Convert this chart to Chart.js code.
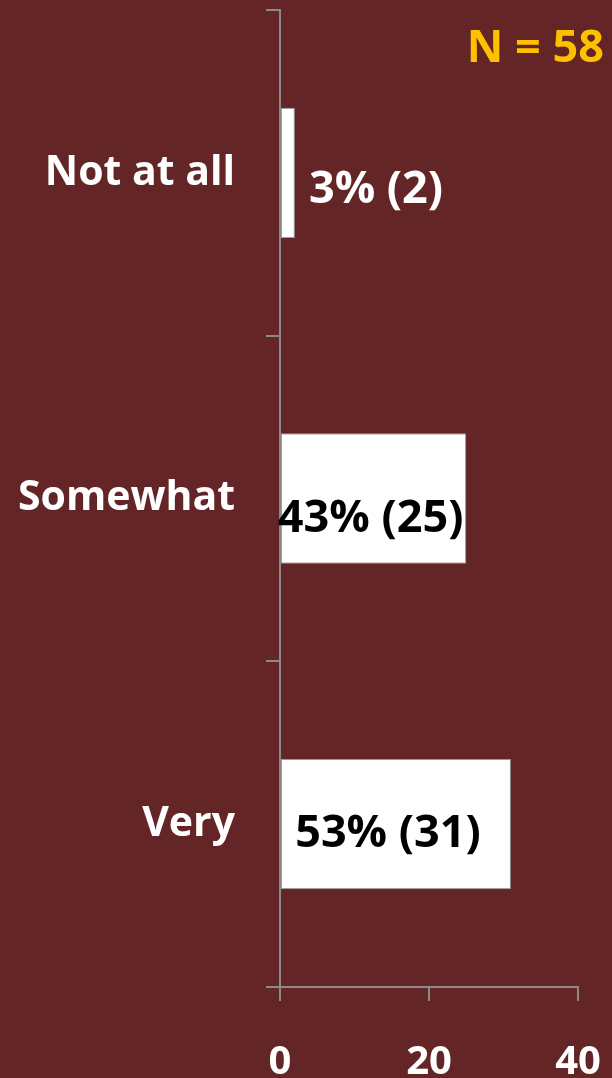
<!DOCTYPE html>
<html lang="en">
<head>
    <meta charset="UTF-8">
    <title>Response breakdown</title>
    <script src="https://cdn.jsdelivr.net/npm/chart.js"></script>
    <style>
        html, body { margin: 0; padding: 0; background: #632526; }
        #chart { display: block; }
    </style>
</head>
<body>
    <canvas id="chart" width="612" height="1078"></canvas>

    <script>
        // answers, top to bottom
        var categories = ['Not at all', 'Somewhat', 'Very'];
        var counts = [2, 25, 31];
        var percents = [3, 43, 53];
        var totalN = 58;
        var xTicks = [0, 20, 40];

        var axisGray = '#8a8a8a';
        var fontFamily = '"Open Sans", "DejaVu Sans", sans-serif';

        // value labels: white beside a thin bar, black inside a wide one
        var barLabels = {
            id: 'barLabels',
            afterDatasetsDraw: function(chart, args, opts) {
                var ctx = chart.ctx;
                var meta = chart.getDatasetMeta(0);
                ctx.save();
                ctx.font = 'bold 45px ' + fontFamily;
                ctx.textBaseline = 'middle';
                meta.data.forEach(function(bar, i) {
                    var p = bar.getProps(['x', 'y', 'base'], true);
                    var text = percents[i] + '% (' + counts[i] + ')';
                    var w = ctx.measureText(text).width;
                    var nudge = opts.nudge[i] || [0, 0];
                    if (p.x - p.base > w * 0.8) {
                        ctx.fillStyle = '#000000';
                        ctx.textAlign = 'center';
                        ctx.fillText(text, (p.x + p.base) / 2 + nudge[0], p.y + nudge[1]);
                    } else {
                        ctx.fillStyle = '#ffffff';
                        ctx.textAlign = 'left';
                        ctx.fillText(text, p.x + nudge[0], p.y + nudge[1]);
                    }
                });
                ctx.restore();
            }
        };

        // sample size in the top right corner
        var sampleSize = {
            id: 'sampleSize',
            afterDraw: function(chart) {
                var ctx = chart.ctx;
                ctx.save();
                ctx.font = 'bold 45px ' + fontFamily;
                ctx.fillStyle = '#ffc000';
                ctx.textAlign = 'right';
                ctx.textBaseline = 'alphabetic';
                ctx.fillText('N = ' + totalN, chart.width - 8, 62);
                ctx.restore();
            }
        };

        var ctx = document.getElementById('chart').getContext('2d');
        var chart = new Chart(ctx, {
            type: 'bar',
            data: {
                labels: categories,
                datasets: [{
                    data: counts,
                    backgroundColor: '#ffffff',
                    borderColor: '#9a9a9a',
                    borderWidth: 1,
                    borderSkipped: false,
                    categoryPercentage: 1.0,
                    barPercentage: 0.4
                }]
            },
            options: {
                indexAxis: 'y',
                responsive: false,
                animation: false,
                layout: { padding: { top: 10, right: 34, left: 0, bottom: 0 } },
                plugins: {
                    legend: { display: false },
                    tooltip: { enabled: false },
                    barLabels: { nudge: [[14, 17], [-3, 21], [-8, 10]] }
                },
                scales: {
                    x: {
                        min: 0,
                        max: 40,
                        afterBuildTicks: function(axis) {
                            axis.ticks = xTicks.map(function(v) { return { value: v }; });
                        },
                        afterFit: function(axis) {
                            axis.height = 91;
                            axis.paddingLeft = 0;
                            axis.paddingRight = 0;
                        },
                        grid: { drawOnChartArea: false, tickLength: 14, color: axisGray, lineWidth: 2 },
                        border: { color: axisGray, width: 2 },
                        ticks: {
                            color: '#ffffff',
                            padding: 38,
                            maxRotation: 0,
                            font: { family: fontFamily, size: 40, weight: 'bold' }
                        }
                    },
                    y: {
                        afterFit: function(axis) {
                            axis.width = 280;
                            axis.paddingTop = 0;
                            axis.paddingBottom = 0;
                        },
                        grid: { offset: true, drawOnChartArea: false, tickLength: 14, color: axisGray, lineWidth: 2 },
                        border: { color: axisGray, width: 2 },
                        ticks: {
                            color: '#ffffff',
                            padding: 31,
                            font: { family: fontFamily, size: 41, weight: 'bold' }
                        }
                    }
                }
            },
            plugins: [barLabels, sampleSize]
        });
    </script>
</body>
</html>
